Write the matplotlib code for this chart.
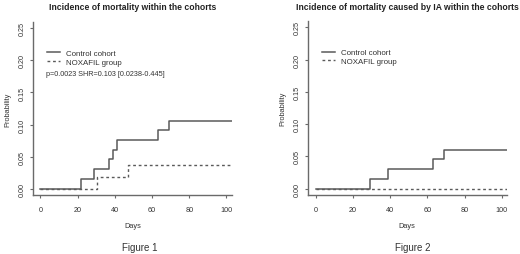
import matplotlib
matplotlib.use("Agg")
import matplotlib.pyplot as plt

plt.rcParams['font.family'] = ['Liberation Sans', 'DejaVu Sans']

# data
days_ctrl_1 = [0, 22, 29, 37, 39, 41, 63, 69, 103]
prob_ctrl_1 = [0, 0.0152, 0.0303, 0.0455, 0.0606, 0.0758, 0.0909, 0.1061, 0.1061]
days_nox_1 = [0, 30.5, 47, 103]
prob_nox_1 = [0, 0.0185, 0.037, 0.037]

days_ctrl_2 = [0, 29, 39, 63, 69, 103]
prob_ctrl_2 = [0, 0.0152, 0.0303, 0.0455, 0.0606, 0.0606]
days_nox_2 = [0, 103]
prob_nox_2 = [0, 0]

x_ticks = [0, 20, 40, 60, 80, 100]
y_ticks = [0.00, 0.05, 0.10, 0.15, 0.20, 0.25]
labels = ['Control cohort', 'NOXAFIL group']
titles = ['Incidence of mortality within the cohorts',
          'Incidence of mortality caused by IA within the cohorts']
captions = ['Figure 1', 'Figure 2']
stat_text = 'p=0.0023 SHR=0.103 [0.0238-0.445]'

line_col = '#5a5a5a'
axis_col = '#6a6a6a'
text_col = '#333333'
W, H = 520, 255


def km_panel(ax, d_ctrl, p_ctrl, d_nox, p_nox, title, caption, leg_x, stat=None):
    ax.plot(d_ctrl, p_ctrl, drawstyle='steps-post', color=line_col, lw=1.1,
            label=labels[0])
    ax.plot(d_nox, p_nox, drawstyle='steps-post', color=line_col, lw=1.0,
            linestyle=(0, (2, 2)), label=labels[1])
    ax.set_xlim(-3.96, 103)
    ax.set_ylim(-0.01, 0.26)
    ax.set_xticks(x_ticks)
    ax.set_yticks(y_ticks)
    ax.set_yticklabels(['%.2f' % v for v in y_ticks], rotation=90, va='center')
    for s in ['top', 'right']:
        ax.spines[s].set_visible(False)
    for s in ['left', 'bottom']:
        ax.spines[s].set_color(axis_col)
        ax.spines[s].set_linewidth(1.0)
    ax.tick_params(colors=axis_col, labelcolor=text_col, labelsize=5.2,
                   length=2.5, width=0.8)
    ax.tick_params(axis='x', pad=5.5)
    ax.tick_params(axis='y', pad=3)
    ax.set_title(title, fontsize=6.2, fontweight='bold', color='#222222', pad=9)
    ax.set_ylabel('Probability', fontsize=5.3, color=text_col, labelpad=5)
    leg = ax.legend(loc='upper left', bbox_to_anchor=(leg_x, 0.84), frameon=False,
                    fontsize=5.7, handlelength=1.65, handletextpad=0.75,
                    labelspacing=0.15, borderpad=0, borderaxespad=0)
    for t in leg.get_texts():
        t.set_color(text_col)
    if stat:
        ax.text(3.2, 0.180, stat, fontsize=5.2, color=text_col, va='center')
    return ax


fig = plt.figure(figsize=(5.2, 2.55), dpi=100)
ax1 = fig.add_axes([33 / W, 1 - 196 / H, 199 / W, 173 / H])
ax2 = fig.add_axes([308.3 / W, 1 - 196 / H, 199 / W, 174 / H])

km_panel(ax1, days_ctrl_1, prob_ctrl_1, days_nox_1, prob_nox_1,
         titles[0], captions[0], 0.068, stat_text)
km_panel(ax2, days_ctrl_2, prob_ctrl_2, days_nox_2, prob_nox_2,
         titles[1], captions[1], 0.069)

# x labels and figure captions
fig.text(133 / W, 1 - 227 / H, 'Days', fontsize=5.3, color=text_col,
         ha='center', va='center')
fig.text(407 / W, 1 - 227 / H, 'Days', fontsize=5.3, color=text_col,
         ha='center', va='center')
fig.text(140 / W, 1 - 248 / H, captions[0], fontsize=7, color=text_col,
         ha='center', va='center')
fig.text(413 / W, 1 - 248 / H, captions[1], fontsize=7, color=text_col,
         ha='center', va='center')

fig.savefig('out.png', dpi=100)
